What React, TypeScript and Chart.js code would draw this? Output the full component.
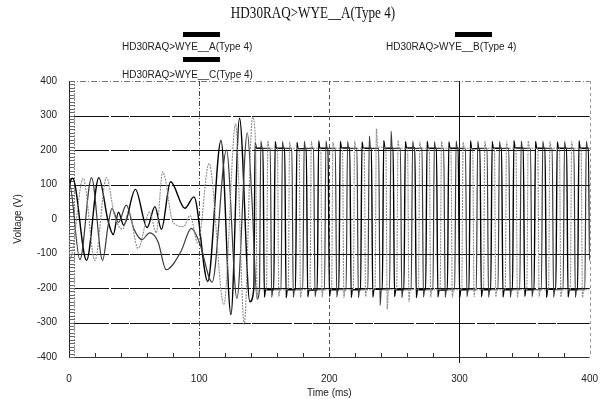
import React, { useEffect, useRef } from "react";
import { Chart, registerables } from "chart.js";

Chart.register(...registerables);

const chartTitle = "HD30RAQ>WYE__A(Type 4)";
const seriesNames = ["HD30RAQ>WYE__A(Type 4)", "HD30RAQ>WYE__B(Type 4)", "HD30RAQ>WYE__C(Type 4)"];
const xAxisTitle = "Time (ms)";
const yAxisTitle = "Voltage (V)";
const xTickValues = [0, 100, 200, 300, 400];
const yTickValues = [-400, -300, -200, -100, 0, 100, 200, 300, 400];

// Phase A (black): start-up oscillation and growth
const phaseA_start: [number, number][] = [
  [0, 0], [0.3, 90], [2.8, 118], [13.5, -120], [22.9, 120], [30, -5], [34, -45], [38, 20], [42, -18],
  [51, 86], [60, -25], [66, 36], [71, -30], [78, 108], [89, 31], [96, 64], [106.6, -181], [116.8, 228],
  [124.4, -277], [131, 292], [139, -240], [142, -200], [143, 222], [144, 205],
];
// Phase A steady state
const phaseA_steady: [number, number][] = [
  [149.0, 205], [150.1, -226], [151.0, -205], [157.3, -205], [158.4, 224], [159.3, 205],
  [165.7, 205], [166.8, -228], [167.7, -205], [174.0, -205], [175.1, 222], [176.0, 204],
  [182.3, 204], [183.4, -225], [184.3, -206], [190.7, -206], [191.8, 226], [192.7, 205],
  [199.0, 205], [200.1, -224], [201.0, -205], [207.3, -205], [208.4, 225], [209.3, 206],
  [215.7, 206], [216.8, -227], [217.7, -205], [224.0, -205], [225.1, 223], [226.0, 205],
  [232.3, 205], [233.4, -226], [234.3, -204], [240.7, -204], [241.8, 227], [242.7, 205],
  [249.0, 205], [250.1, -225], [251.0, -205], [257.3, -205], [258.4, 224], [259.3, 206],
  [265.7, 206], [266.8, -228], [267.7, -205], [274.0, -205], [275.1, 225], [276.0, 205],
  [282.3, 205], [283.4, -226], [284.3, -206], [290.7, -206], [291.8, 223], [292.7, 205],
  [299.0, 205], [300.1, -227], [301.0, -205], [307.3, -205], [308.4, 226], [309.3, 204],
  [315.7, 204], [316.8, -225], [317.7, -205], [324.0, -205], [325.1, 224], [326.0, 205],
  [332.3, 205], [333.4, -226], [334.3, -205], [340.7, -205], [341.8, 227], [342.7, 206],
  [349.0, 206], [350.1, -224], [351.0, -205], [357.3, -205], [358.4, 225], [359.3, 205],
  [365.7, 205], [366.8, -227], [367.7, -204], [374.0, -204], [375.1, 223], [376.0, 205],
  [382.3, 205], [383.4, -226], [384.3, -205], [390.7, -205], [391.8, 226], [392.7, 205],
  [399.0, 205], [400.0, -120],
];

// Phase B (grey)
const phaseB_start: [number, number][] = [
  [0, 0], [0.3, -80], [0.8, -115], [10.9, 118], [19.9, -120], [28.8, 120], [35, 10], [41, -30], [46, 20],
  [53, -85], [62, 20], [67, -40], [72, 137], [80, -10], [88, -22], [93, 10], [99, -70], [107.6, 161],
  [119, -248], [128, 276], [134.6, -305], [141, 295], [143.4, 210],
];
const phaseB_steady: [number, number][] = [
  [144.5, -228], [145.4, -205], [151.7, -205], [152.8, 226], [153.7, 205],
  [160.1, 205], [161.2, -225], [162.1, -205], [168.4, -205], [169.5, 224], [170.4, 205],
  [176.8, 205], [177.9, -227], [178.8, -205], [185.1, -205], [186.2, 225], [187.1, 205],
  [193.4, 205], [194.5, -226], [195.4, -205], [201.7, -205], [202.8, 223], [203.7, 205],
  [210.1, 205], [211.2, -228], [212.1, -205], [218.4, -205], [219.5, 226], [220.4, 205],
  [226.8, 205], [227.9, -225], [228.8, -205], [235.1, -205], [236.2, 262], [237.1, 208],
  [243.4, 208], [244.5, -262], [245.4, -205], [251.7, -205], [252.8, 228], [253.7, 205],
  [260.1, 205], [261.2, -240], [262.1, -205], [268.4, -205], [269.5, 224], [270.4, 205],
  [276.8, 205], [277.9, -226], [278.8, -205], [285.1, -205], [286.2, 225], [287.1, 205],
  [293.4, 205], [294.5, -227], [295.4, -205], [301.7, -205], [302.8, 223], [303.7, 205],
  [310.1, 205], [311.2, -225], [312.1, -205], [318.4, -205], [319.5, 226], [320.4, 205],
  [326.8, 205], [327.9, -226], [328.8, -205], [335.1, -205], [336.2, 224], [337.1, 205],
  [343.4, 205], [344.5, -227], [345.4, -205], [351.7, -205], [352.8, 226], [353.7, 205],
  [360.1, 205], [361.2, -225], [362.1, -205], [368.4, -205], [369.5, 225], [370.4, 205],
  [376.8, 205], [377.9, -226], [378.8, -205], [385.1, -205], [386.2, 224], [387.1, 205],
  [393.4, 205], [394.5, -227], [395.4, -205], [400, -205],
];

// Phase C (dark)
const phaseC_start: [number, number][] = [
  [0, 0], [0.2, 105], [8.4, -118], [17.3, 120], [25.8, -120], [30, -20], [33, 30], [38, -10], [44, 40],
  [50, -30], [56, -60], [62, -40], [68.3, -65], [74.7, -147], [86, -94], [94, -27], [100.4, -70],
  [110, -183], [121, 200], [129, -230], [137, 250], [140.5, 60], [144.5, -232], [146.3, -205],
];
const phaseC_steady: [number, number][] = [
  [147.4, 226], [148.3, 205], [154.6, 205], [155.7, -226], [156.6, -205],
  [162.9, -205], [164.0, 224], [164.9, 205], [171.2, 205], [172.3, -227], [173.2, -205],
  [179.6, -205], [180.7, 225], [181.6, 205], [187.9, 205], [189.0, -225], [189.9, -205],
  [196.3, -205], [197.4, 226], [198.3, 205], [204.6, 205], [205.7, -226], [206.6, -205],
  [212.9, -205], [214.0, 224], [214.9, 205], [221.2, 205], [222.3, -228], [223.2, -205],
  [229.6, -205], [230.7, 240], [231.6, 205], [237.9, 205], [239.0, -250], [239.9, -205],
  [246.3, -205], [247.4, 255], [248.3, 205], [254.6, 205], [255.7, -228], [256.6, -205],
  [262.9, -205], [264.0, 225], [264.9, 205], [271.2, 205], [272.3, -226], [273.2, -205],
  [279.6, -205], [280.7, 224], [281.6, 205], [287.9, 205], [289.0, -227], [289.9, -205],
  [296.3, -205], [297.4, 226], [298.3, 205], [304.6, 205], [305.7, -225], [306.6, -205],
  [312.9, -205], [314.0, 225], [314.9, 205], [321.2, 205], [322.3, -226], [323.2, -205],
  [329.6, -205], [330.7, 224], [331.6, 205], [337.9, 205], [339.0, -227], [339.9, -205],
  [346.3, -205], [347.4, 226], [348.3, 205], [354.6, 205], [355.7, -225], [356.6, -205],
  [362.9, -205], [364.0, 225], [364.9, 205], [371.2, 205], [372.3, -226], [373.2, -205],
  [379.6, -205], [380.7, 224], [381.6, 205], [387.9, 205], [389.0, -227], [389.9, -205],
  [396.3, -205], [397.4, 225], [398.3, 205], [400, 205],
];

const SANS = '"Liberation Sans", Arial, sans-serif';
const SERIF = '"Liberation Serif", "Times New Roman", serif';

const decorPlugin = {
  id: "decor",
  beforeDatasetsDraw(chart: any) {
    const { ctx, chartArea: a, scales } = chart;
    const xs = scales.x;
    const ys = scales.y;
    ctx.save();
    for (const v of yTickValues) {
      const py = Math.round(ys.getPixelForValue(v)) + 0.5;
      ctx.beginPath();
      if (v === 400) {
        ctx.strokeStyle = "#777";
        ctx.setLineDash([6, 2, 1, 2]);
      } else if (v === -400) {
        ctx.strokeStyle = "#333";
        ctx.setLineDash([]);
      } else {
        ctx.strokeStyle = "#111";
        ctx.setLineDash([40, 2, 18, 1]);
      }
      ctx.lineWidth = 1;
      ctx.moveTo(a.left, py);
      ctx.lineTo(a.right, py);
      ctx.stroke();
    }
    ctx.setLineDash([]);
    const vStyles: Record<number, { c: string; d: number[] }> = {
      100: { c: "#444", d: [5, 2, 1, 2] },
      200: { c: "#555", d: [4, 3] },
      300: { c: "#111", d: [] },
      400: { c: "#999", d: [3, 3] },
    };
    for (const v of [100, 200, 300, 400]) {
      const px = Math.round(xs.getPixelForValue(v)) + 0.5;
      ctx.beginPath();
      ctx.strokeStyle = vStyles[v].c;
      ctx.setLineDash(vStyles[v].d);
      ctx.moveTo(px, a.top);
      ctx.lineTo(px, v === 300 ? a.bottom + 6 : a.bottom);
      ctx.stroke();
    }
    ctx.setLineDash([]);
    const x0 = Math.round(xs.getPixelForValue(0)) + 0.5;
    ctx.strokeStyle = "#222";
    ctx.beginPath();
    ctx.moveTo(x0, a.top);
    ctx.lineTo(x0, a.bottom);
    ctx.stroke();
    ctx.strokeStyle = "#888";
    ctx.setLineDash([2, 1]);
    ctx.beginPath();
    ctx.moveTo(x0 + 5, a.top);
    ctx.lineTo(x0 + 5, a.bottom);
    ctx.stroke();
    ctx.setLineDash([]);
    ctx.strokeStyle = "#666";
    ctx.beginPath();
    for (let v = -400; v <= 400; v += 10) {
      const py = Math.round(ys.getPixelForValue(v)) + 0.5;
      ctx.moveTo(x0, py);
      ctx.lineTo(x0 + 5, py);
    }
    ctx.stroke();
    ctx.strokeStyle = "#333";
    ctx.beginPath();
    for (let v = 20; v < 400; v += 20) {
      const px = Math.round(xs.getPixelForValue(v)) + 0.5;
      ctx.moveTo(px, a.bottom);
      ctx.lineTo(px, a.bottom - 4);
    }
    ctx.stroke();
    ctx.restore();
  },
  afterDraw(chart: any) {
    const { ctx } = chart;
    ctx.save();
    ctx.fillStyle = "#111";
    ctx.font = `16px ${SERIF}`;
    ctx.textAlign = "center";
    ctx.textBaseline = "middle";
    ctx.translate(313, 14);
    ctx.scale(0.82, 1);
    ctx.fillText(chartTitle, 0, 0);
    ctx.restore();
    ctx.save();
    ctx.font = `10px ${SANS}`;
    ctx.textAlign = "left";
    ctx.textBaseline = "middle";
    const items = [
      { name: seriesNames[0], tx: 122, ty: 47, bx: 183, by: 32 },
      { name: seriesNames[1], tx: 386, ty: 47, bx: 455, by: 32 },
      { name: seriesNames[2], tx: 122, ty: 75, bx: 183, by: 57 },
    ];
    for (const it of items) {
      ctx.fillStyle = "#000";
      ctx.fillRect(it.bx, it.by, 37, 5);
      ctx.fillStyle = "#222";
      ctx.fillText(it.name, it.tx, it.ty);
    }
    ctx.restore();
  },
};

export default function App() {
  const ref = useRef<HTMLCanvasElement | null>(null);
  useEffect(() => {
    if (!ref.current) return;
    const chart = new Chart(ref.current, {
      type: "line",
      data: {
        datasets: [
          {
            label: seriesNames[1],
            data: [...phaseB_start, ...phaseB_steady] as any,
            borderColor: "#8c8c8c",
            borderWidth: 1.1,
            borderDash: [2, 1],
            pointRadius: 0,
            fill: false,
            cubicInterpolationMode: "monotone",
          },
          {
            label: seriesNames[2],
            data: [...phaseC_start, ...phaseC_steady] as any,
            borderColor: "#3a3a3a",
            borderWidth: 1.2,
            pointRadius: 0,
            fill: false,
            cubicInterpolationMode: "monotone",
          },
          {
            label: seriesNames[0],
            data: [...phaseA_start, ...phaseA_steady] as any,
            borderColor: "#000",
            borderWidth: 1.4,
            pointRadius: 0,
            fill: false,
            cubicInterpolationMode: "monotone",
          },
        ],
      },
      options: {
        animation: false,
        responsive: false,
        devicePixelRatio: 1,
        layout: { padding: { top: 81, right: 22, bottom: 0, left: 0 } },
        plugins: { legend: { display: false }, tooltip: { enabled: false }, title: { display: false } },
        scales: {
          x: {
            type: "linear",
            min: 0,
            max: 400,
            afterFit(s: any) {
              s.height = 42;
            },
            afterBuildTicks(s: any) {
              s.ticks = xTickValues.map((v) => ({ value: v }));
            },
            ticks: { font: { size: 10, family: SANS }, color: "#222", padding: 16, maxRotation: 0 },
            grid: { display: false, drawTicks: false },
            border: { display: false },
            title: { display: true, text: xAxisTitle, font: { size: 10, family: SANS }, color: "#222", padding: { top: 0, bottom: 0 } },
          },
          y: {
            type: "linear",
            min: -400,
            max: 400,
            afterFit(s: any) {
              s.width = 69;
            },
            afterBuildTicks(s: any) {
              s.ticks = yTickValues.map((v) => ({ value: v }));
            },
            ticks: { font: { size: 10, family: SANS }, color: "#222", padding: 12 },
            grid: { display: false, drawTicks: false },
            border: { display: false },
            title: { display: true, text: yAxisTitle, font: { size: 10, family: SANS }, color: "#222", padding: { top: 12, bottom: 0 } },
          },
        },
      },
      plugins: [decorPlugin],
    });
    return () => chart.destroy();
  }, []);
  return (
    <div style={{ position: "absolute", left: 0, top: 0, width: 614, height: 399, background: "#fff" }}>
      <canvas ref={ref} width={614} height={399} style={{ display: "block" }} />
    </div>
  );
}
